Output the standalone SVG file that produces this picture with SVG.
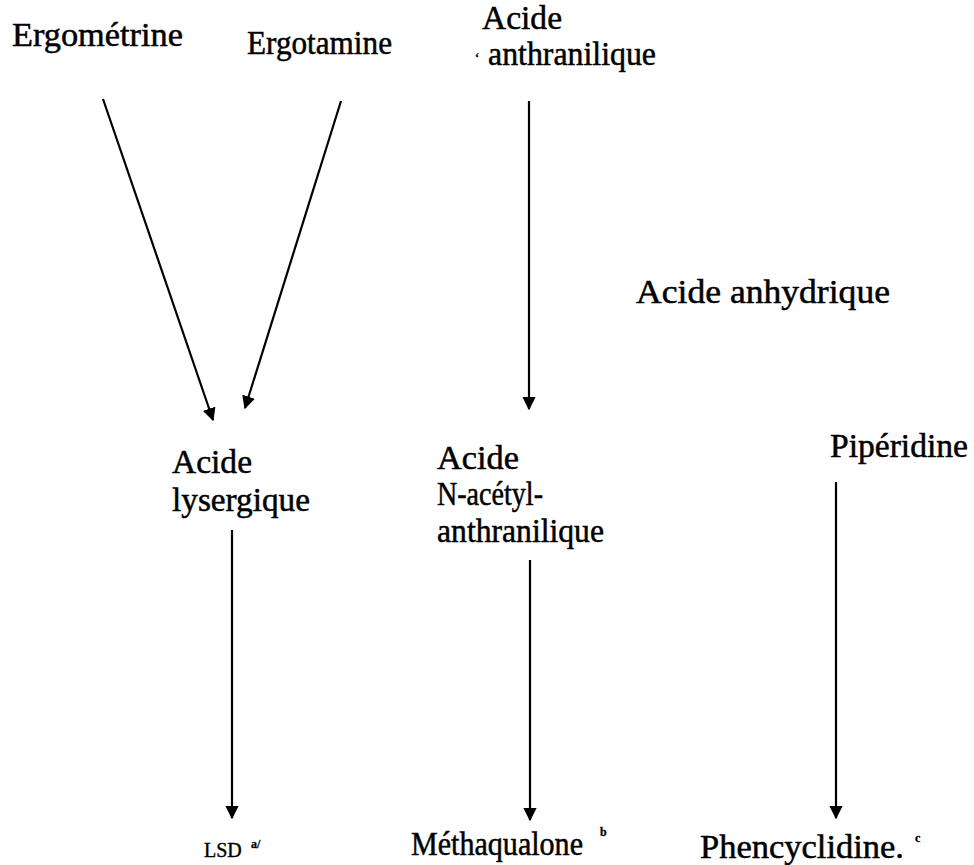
<svg xmlns="http://www.w3.org/2000/svg" width="974" height="865" viewBox="0 0 974 865">
<style>
text{font-family:"Liberation Serif","Times New Roman",serif;font-size:33px;fill:#000;stroke:#000;stroke-width:0.5}
.sm{font-size:20px;stroke-width:0.4}
.sup{font-size:12px;font-weight:bold;stroke-width:0.3}
.c{stroke:#000;stroke-width:2.2;fill:none;marker-end:url(#ah)}
</style>
<defs>
<marker id="ah" viewBox="0 0 10 10" refX="9" refY="5" markerWidth="6" markerHeight="6" markerUnits="strokeWidth" orient="auto">
<path d="M0,0 L10,5 L0,10 Z" fill="#000"/>
</marker>
</defs>
<rect width="974" height="865" fill="#fff"/>
<g id="ergometrine"><text x="12" y="46" textLength="171" lengthAdjust="spacingAndGlyphs">Ergométrine</text></g>
<g id="ergotamine"><text x="247" y="54" textLength="145" lengthAdjust="spacingAndGlyphs">Ergotamine</text></g>
<g id="acide-anthranilique"><text x="482" y="29" textLength="80" lengthAdjust="spacingAndGlyphs">Acide</text><text x="488" y="65" textLength="168" lengthAdjust="spacingAndGlyphs">anthranilique</text><text class="sup" x="475" y="62">‘</text></g>
<g id="acide-anhydrique"><text x="636" y="303" textLength="254" lengthAdjust="spacingAndGlyphs">Acide anhydrique</text></g>
<g id="acide-lysergique"><text x="172" y="473" textLength="80" lengthAdjust="spacingAndGlyphs">Acide</text><text x="172" y="511" textLength="138" lengthAdjust="spacingAndGlyphs">lysergique</text></g>
<g id="acide-n-acetyl"><text x="437" y="469" textLength="82" lengthAdjust="spacingAndGlyphs">Acide</text><text x="437" y="505" textLength="106" lengthAdjust="spacingAndGlyphs">N-acétyl-</text><text x="437" y="542" textLength="167" lengthAdjust="spacingAndGlyphs">anthranilique</text></g>
<g id="piperidine"><text x="830" y="457" textLength="138" lengthAdjust="spacingAndGlyphs">Pipéridine</text></g>
<g id="lsd"><text class="sm" x="204" y="857">LSD</text><text class="sup" x="251" y="848">a/</text></g>
<g id="methaqualone"><text x="411" y="855" textLength="172" lengthAdjust="spacingAndGlyphs">Méthaqualone</text><text class="sup" x="600" y="836">b</text></g>
<g id="phencyclidine"><text x="700" y="858" textLength="204" lengthAdjust="spacingAndGlyphs">Phencyclidine.</text><text class="sup" x="915" y="842">c</text></g>
<g id="connectors">
<line class="c" x1="103" y1="99" x2="213" y2="420"/>
<line class="c" x1="341" y1="101" x2="245" y2="408"/>
<line class="c" x1="529" y1="101" x2="529" y2="409"/>
<line class="c" x1="232" y1="530" x2="232" y2="818"/>
<line class="c" x1="530" y1="560" x2="530" y2="820"/>
<line class="c" x1="836" y1="482" x2="836" y2="818"/>
</g>
</svg>
